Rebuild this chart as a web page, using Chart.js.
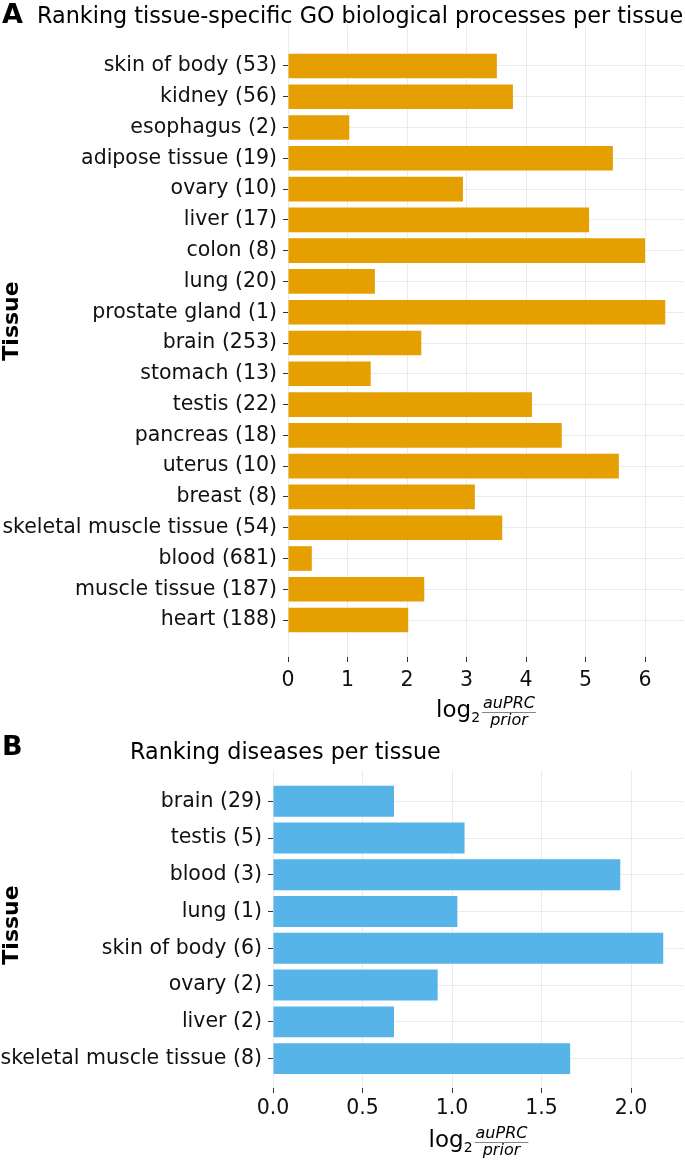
<!DOCTYPE html>
<html>
<head>
<meta charset="utf-8">
<script src="https://cdn.jsdelivr.net/npm/chart.js@4.4.1/dist/chart.umd.min.js"></script>
<style>
  body { margin: 0; background: #fff; }
  .panel { position: absolute; left: 0; }
</style>
</head>
<body>
<div class="panel" style="top:0"><canvas id="chartA" width="685" height="730"></canvas></div>
<div class="panel" style="top:730px"><canvas id="chartB" width="685" height="430"></canvas></div>
<script>
// panel A: tissue-specific GO biological processes
const tissuesA = ['skin of body (53)', 'kidney (56)', 'esophagus (2)', 'adipose tissue (19)', 'ovary (10)',
    'liver (17)', 'colon (8)', 'lung (20)', 'prostate gland (1)', 'brain (253)', 'stomach (13)', 'testis (22)',
    'pancreas (18)', 'uterus (10)', 'breast (8)', 'skeletal muscle tissue (54)', 'blood (681)',
    'muscle tissue (187)', 'heart (188)'];
const scoresA = [3.51, 3.78, 1.03, 5.46, 2.94, 5.06, 6.00, 1.46, 6.34, 2.24, 1.39, 4.10, 4.60, 5.56, 3.14,
    3.60, 0.40, 2.29, 2.02];
const ticksA = [0, 1, 2, 3, 4, 5, 6];

// panel B: diseases
const tissuesB = ['brain (29)', 'testis (5)', 'blood (3)', 'lung (1)', 'skin of body (6)', 'ovary (2)',
    'liver (2)', 'skeletal muscle tissue (8)'];
const scoresB = [0.676, 1.07, 1.94, 1.03, 2.18, 0.92, 0.676, 1.66];
const ticksB = [0, 0.5, 1, 1.5, 2];

const FONT = '"DejaVu Sans", sans-serif';

function textPlugin(cfg) {
    return {
        id: 'panelText',
        afterDraw(chart) {
            const ctx = chart.ctx;
            const area = chart.chartArea;
            ctx.save();
            ctx.fillStyle = '#000';
            ctx.textBaseline = 'alphabetic';
            ctx.textAlign = 'left';

            ctx.font = 'bold 27px ' + FONT;
            ctx.fillText(cfg.letter, 2, cfg.letterY);

            ctx.font = '22.3px ' + FONT;
            ctx.fillText(cfg.title, cfg.titleX, cfg.titleY);

            // y axis title
            ctx.save();
            ctx.translate(cfg.tissueX, cfg.tissueY);
            ctx.rotate(-Math.PI / 2);
            ctx.textAlign = 'center';
            ctx.font = 'bold 22px ' + FONT;
            ctx.fillText('Tissue', 0, 0);
            ctx.restore();

            // x axis title: log2 (auPRC / prior)
            const base = cfg.xTitleY;
            ctx.font = '23px ' + FONT;
            const wLog = ctx.measureText('log').width;
            ctx.font = '14px ' + FONT;
            const wSub = ctx.measureText('2').width;
            ctx.font = 'italic 16px ' + FONT;
            const wNum = ctx.measureText('auPRC').width;
            const wDen = ctx.measureText('prior').width;
            const wFrac = Math.max(wNum, wDen) + 2;
            let x = (area.left + area.right) / 2 - (wLog + wSub + wFrac + 2) / 2;
            ctx.font = '23px ' + FONT;
            ctx.fillText('log', x, base);
            x += wLog;
            ctx.font = '14px ' + FONT;
            ctx.fillText('2', x, base + 5);
            x += wSub + 2;
            ctx.font = 'italic 16px ' + FONT;
            ctx.textAlign = 'center';
            ctx.fillText('auPRC', x + wFrac / 2, base - 9);
            ctx.fillText('prior', x + wFrac / 2, base + 8);
            ctx.strokeStyle = '#666';
            ctx.lineWidth = 0.8;
            ctx.beginPath();
            ctx.moveTo(x, base - 4.5);
            ctx.lineTo(x + wFrac, base - 4.5);
            ctx.stroke();
            ctx.restore();
        }
    };
}

function makeChart(id, labels, values, xTicks, cfg) {
    return new Chart(document.getElementById(id), {
        type: 'bar',
        data: {
            datasets: [{
                data: values.map((v, i) => ({ x: v, y: i })),
                backgroundColor: cfg.color,
                borderWidth: 0,
                barPercentage: cfg.barPct,
                categoryPercentage: 1
            }]
        },
        options: {
            indexAxis: 'y',
            responsive: false,
            animation: false,
            layout: { padding: { top: cfg.top, right: 1, left: 0, bottom: 0 } },
            plugins: { legend: { display: false }, tooltip: { enabled: false } },
            scales: {
                x: {
                    type: 'linear',
                    min: 0,
                    max: cfg.xMax,
                    offset: false,
                    afterBuildTicks: s => { s.ticks = xTicks.map(v => ({ value: v })); },
                    afterFit: s => { s.height = cfg.xAxisHeight; },
                    grid: { color: '#ebebeb', lineWidth: 1, tickColor: '#333', tickLength: 5, offset: false },
                    border: { display: false },
                    ticks: {
                        color: '#111',
                        font: { family: FONT, size: 20.5 },
                        padding: cfg.xPad,
                        maxRotation: 0,
                        callback: v => cfg.fmt(v)
                    }
                },
                y: {
                    type: 'linear',
                    reverse: true,
                    offset: false,
                    min: cfg.yMin,
                    max: cfg.yMax,
                    afterBuildTicks: s => { s.ticks = labels.map((_, i) => ({ value: i })); },
                    afterFit: s => { s.width = cfg.yAxisWidth; },
                    grid: { color: '#ebebeb', lineWidth: 1, tickColor: '#333', tickLength: 5, offset: false },
                    border: { display: false },
                    ticks: {
                        color: '#111',
                        font: { family: FONT, size: 20.5 },
                        padding: 6,
                        autoSkip: false,
                        callback: v => labels[v]
                    }
                }
            }
        },
        plugins: [textPlugin(cfg)]
    });
}

makeChart('chartA', tissuesA, scoresA, ticksA, {
    color: '#E69F00', barPct: 0.8, top: 25, xMax: 6.655, xAxisHeight: 73, yAxisWidth: 288,
    yMin: -1.33, yMax: 19.2, fmt: v => String(v), xPad: 6,
    letter: 'A', letterY: 23, title: 'Ranking tissue-specific GO biological processes per tissue',
    titleX: 37, titleY: 23, tissueX: 18, tissueY: 321, xTitleY: 717
});

makeChart('chartB', tissuesB, scoresB, ticksB, {
    color: '#56B4E9', barPct: 0.84, top: 40, xMax: 2.296, xAxisHeight: 72, yAxisWidth: 273,
    yMin: -0.85, yMax: 7.8, fmt: v => v.toFixed(1), xPad: 3,
    letter: 'B', letterY: 25, title: 'Ranking diseases per tissue',
    titleX: 130, titleY: 29, tissueX: 18, tissueY: 195, xTitleY: 417
});
</script>
</body>
</html>
